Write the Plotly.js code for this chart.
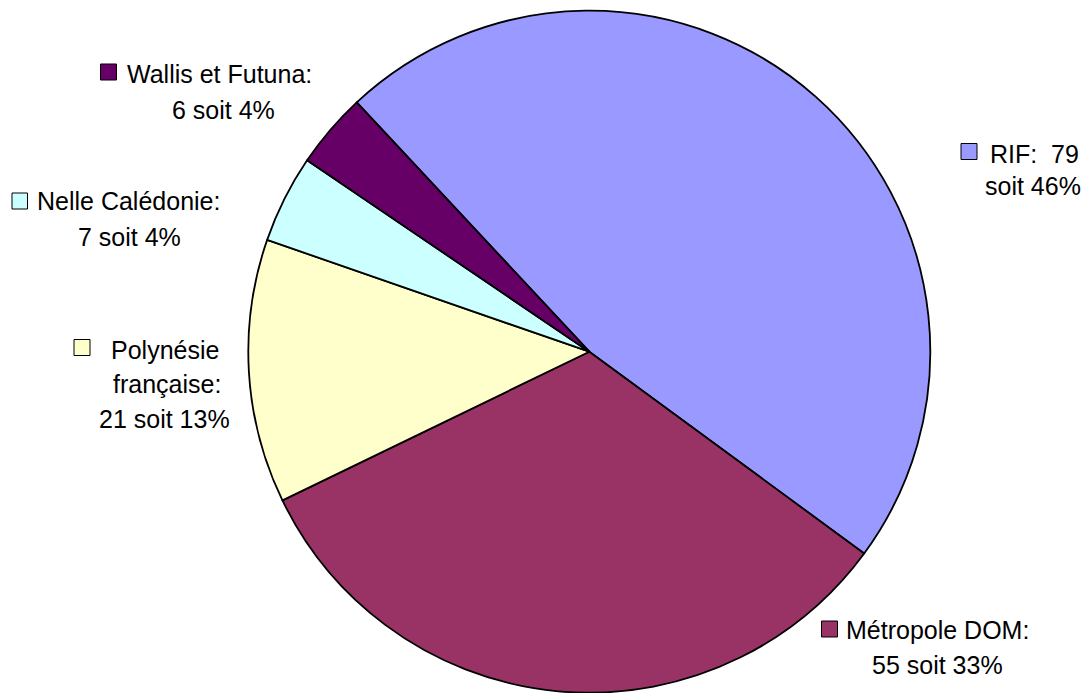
<!DOCTYPE html>
<html>
<head>
<meta charset="utf-8">
<script src="https://cdn.plot.ly/plotly-3.0.1.min.js"></script>
<style>html,body{margin:0;padding:0;background:#fff;}#chart{width:1090px;height:693px;}</style>
</head>
<body>
<div id="chart"></div>
<script>
// ---- data ----
const categories = ["RIF", "Métropole DOM", "Polynésie française", "Nelle Calédonie", "Wallis et Futuna"];
const values = [79, 55, 21, 7, 6];
const percents = [46, 33, 13, 4, 4];
const colors = ["#9999ff", "#993366", "#ffffcc", "#ccffff", "#660066"];

// ---- label text built from the data ----
const polyWords = categories[2].split(" ");
const labelLines = [
  [categories[0] + ":\u00a0 " + values[0], "soit " + percents[0] + "%"],
  [categories[1] + ":", values[1] + " soit " + percents[1] + "%"],
  [polyWords[0], polyWords[1] + ":", values[2] + " soit " + percents[2] + "%"],
  [categories[3] + ":", values[3] + " soit " + percents[3] + "%"],
  [categories[4] + ":", values[4] + " soit " + percents[4] + "%"]
];

// ---- layout placement (pixels) ----
const W = 1090, H = 693;
const cx = 589.3, cy = 351.7, R = 341;
// per label: line centre x's, line baselines, marker box [x0,y0,x1,y1]
const labelPos = [
  {xs: [1034, 1032.5], ys: [162, 195], box: [961, 143.5, 977, 159.5]},
  {xs: [937, 937.5], ys: [638, 673], box: [821.5, 621, 837.5, 637]},
  {xs: [165, 166.5, 164], ys: [358, 393, 427], box: [74, 339.5, 90, 355.5]},
  {xs: [128.3, 129], ys: [209, 245], box: [12, 193, 27.5, 209]},
  {xs: [219, 223], ys: [82, 118], box: [100.5, 64, 116.5, 80]}
];

const px = x => x / W;
const py = y => 1 - y / H;

const annotations = [];
const shapes = [];
labelLines.forEach((lines, i) => {
  const p = labelPos[i];
  lines.forEach((t, j) => {
    annotations.push({
      text: t, xref: "paper", yref: "paper",
      x: px(p.xs[j]), y: py(p.ys[j] - 8.5),
      xanchor: "center", yanchor: "middle", showarrow: false,
      font: {family: "Liberation Sans, Arial, sans-serif", size: 25, color: "#000"}
    });
  });
  shapes.push({
    type: "rect", xref: "paper", yref: "paper",
    x0: px(p.box[0]), x1: px(p.box[2]), y0: py(p.box[3]), y1: py(p.box[1]),
    fillcolor: colors[i], line: {color: "#000", width: 1}
  });
});

const trace = {
  type: "pie",
  labels: categories,
  values: values,
  marker: {colors: colors, line: {color: "#000", width: 1.8}},
  sort: false,
  direction: "clockwise",
  rotation: -43,
  textinfo: "none",
  hoverinfo: "none",
  showlegend: false,
  domain: {x: [(cx - R) / W, (cx + R) / W], y: [1 - (cy + R) / H, 1 - (cy - R) / H]}
};

const layout = {
  width: W, height: H,
  margin: {l: 0, r: 0, t: 0, b: 0},
  paper_bgcolor: "#fff", plot_bgcolor: "#fff",
  showlegend: false,
  annotations: annotations,
  shapes: shapes,
  font: {family: "Liberation Sans, Arial, sans-serif"}
};

Plotly.newPlot("chart", [trace], layout, {displayModeBar: false, staticPlot: true});
</script>
</body>
</html>
